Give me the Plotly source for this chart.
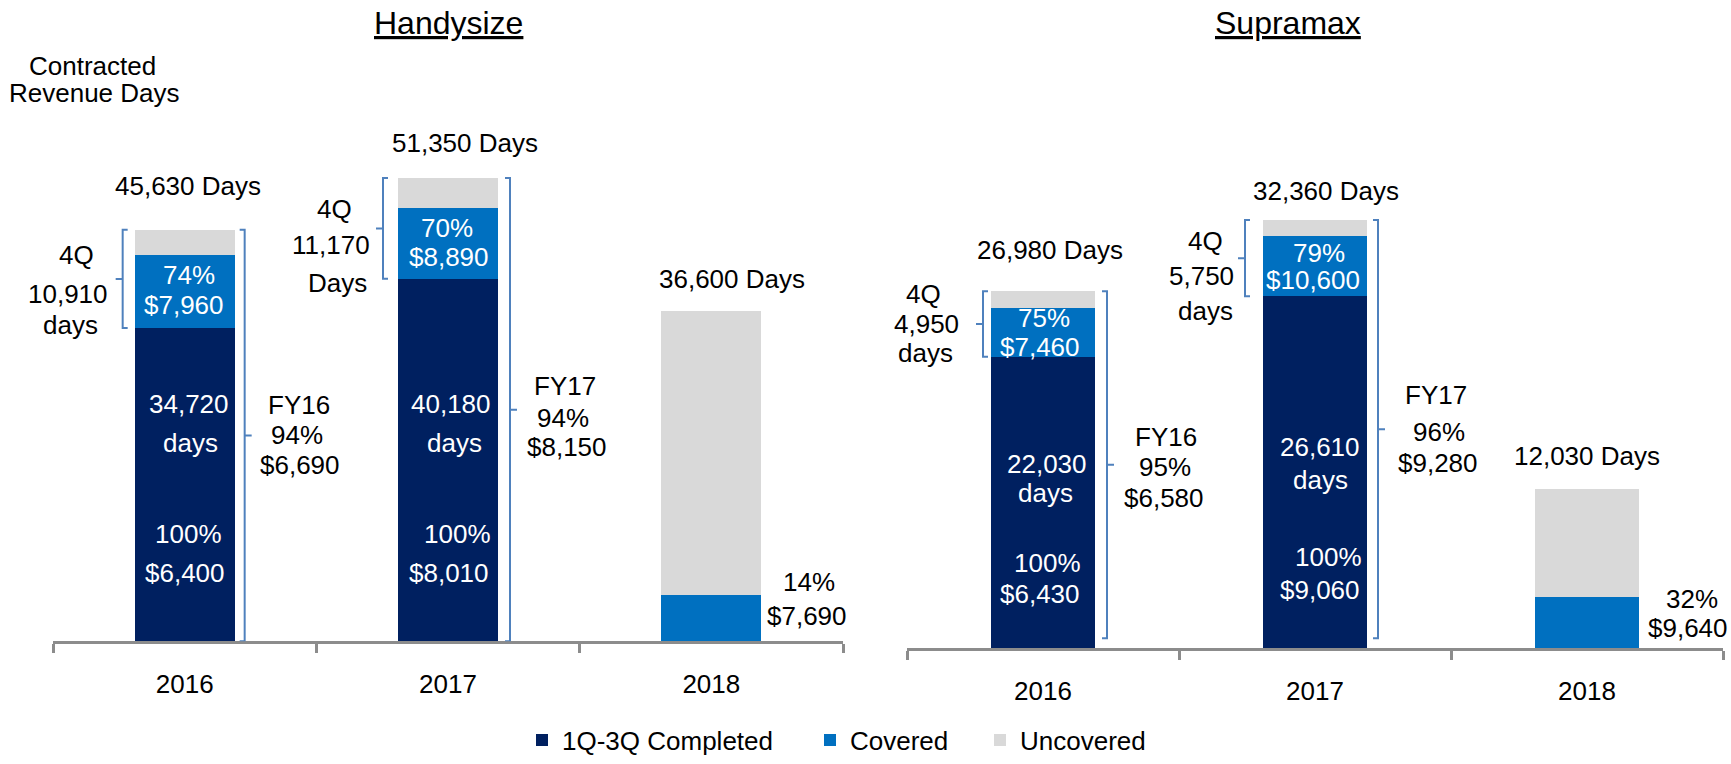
import plotly.graph_objects as go

# ---------------- data ----------------
years = ["2016", "2017", "2018"]
series_names = ["1Q-3Q Completed", "Covered", "Uncovered"]

# Handysize (days)
hs_completed = [34720, 40180, 0]
hs_covered = [8070, 7820, 5120]
hs_uncovered = [2840, 3350, 31480]
hs_totals = [45630, 51350, 36600]
hs_q4_days = [10910, 11170]
hs_q4_pct = [74, 70]
hs_q4_rate = [7960, 8890]
hs_done_rate = [6400, 8010]
hs_fy_pct = [94, 94]
hs_fy_rate = [6690, 8150]
hs_2018_pct = 14
hs_2018_rate = 7690

# Supramax (days)
sm_completed = [22030, 26610, 0]
sm_covered = [3710, 4540, 3850]
sm_uncovered = [1240, 1210, 8180]
sm_totals = [26980, 32360, 12030]
sm_q4_days = [4950, 5750]
sm_q4_pct = [75, 79]
sm_q4_rate = [7460, 10600]
sm_done_rate = [6430, 9060]
sm_fy_pct = [95, 96]
sm_fy_rate = [6580, 9280]
sm_2018_pct = 32
sm_2018_rate = 9640

# ---------------- style ----------------
FONT = "Liberation Sans, Arial, Helvetica, sans-serif"
NAVY = "#002060"
BLUE = "#0070C0"
GREY = "#D9D9D9"
BRACKET = "#4F81BD"
AXIS = "#8C8C8C"
W, H = 1731, 764
FS = 26

fig = go.Figure()

panels = [
    dict(xa="x", ya="y", comp=hs_completed, cov=hs_covered, unc=hs_uncovered),
    dict(xa="x2", ya="y2", comp=sm_completed, cov=sm_covered, unc=sm_uncovered),
]
legend_ids = ["legend", "legend2", "legend3"]
for pi, p in enumerate(panels):
    for k, (vals, col) in enumerate(zip([p["comp"], p["cov"], p["unc"]], [NAVY, BLUE, GREY])):
        fig.add_trace(go.Bar(
            x=years, y=vals, name=series_names[k],
            marker=dict(color=col, line=dict(width=0)),
            xaxis=p["xa"], yaxis=p["ya"],
            showlegend=(pi == 0), legend=legend_ids[k],
            hoverinfo="skip",
        ))


def lab(ax, i, val, text, dx, dy, color="black", size=FS):
    fig.add_annotation(
        xref=ax[0], yref=ax[1], x=i, y=val, text=text,
        xshift=dx, yshift=-dy, showarrow=False,
        xanchor="center", yanchor="middle",
        font=dict(family=FONT, size=size, color=color),
    )


def bracket(ax, i, y_top, y_bot, xoff, side):
    # side = -1 -> "[" (left of bar), +1 -> "]" (right of bar)
    s = -side * 5
    t = side * 7
    ym = (y_top + y_bot) / 2
    path = (f"M{xoff + s},{y_top} L{xoff},{y_top} L{xoff},{y_bot} L{xoff + s},{y_bot} "
            f"M{xoff},{ym} L{xoff + t},{ym}")
    fig.add_shape(type="path", xref=ax[0], yref=ax[1], xsizemode="pixel", xanchor=i,
                  path=path, line=dict(color=BRACKET, width=2))


LEFT = ("x", "y")
RIGHT = ("x2", "y2")
HS_YMAX = 71100
SM_YMAX = 49000
SM_PX = SM_YMAX / 655.0

# ---- Handysize labels ----
tot_off_hs = [(3, -44), (17, -35), (21, -32)]
for i in range(3):
    lab(LEFT, i, hs_totals[i], f"{hs_totals[i]:,} Days", *tot_off_hs[i])

q4_lines_hs = [[("4Q", -108, -24), (None, -117, 15), ("days", -114, 46)],
               [("4Q", -114, -19), (None, -117, 17), ("Days", -111, 55)]]
for i in range(2):
    mid = hs_completed[i] + (hs_covered[i] + hs_uncovered[i]) / 2
    for t, dx, dy in q4_lines_hs[i]:
        lab(LEFT, i, mid, t if t else f"{hs_q4_days[i]:,}", dx, dy)
    bmid = hs_completed[i] + hs_covered[i] / 2
    lab(LEFT, i, bmid, f"{hs_q4_pct[i]}%", [4, -1][i], [-17, -16][i], "white")
    lab(LEFT, i, bmid, f"${hs_q4_rate[i]:,}", [-1, 1][i], 13, "white")
    lab(LEFT, i, 0, f"{hs_completed[i]:,}", [4, 3][i], -237, "white")
    lab(LEFT, i, 0, "days", [6, 6][i], -198, "white")
    lab(LEFT, i, 0, "100%", [4, 9][i], -107, "white")
    lab(LEFT, i, 0, f"${hs_done_rate[i]:,}", [0, 1][i], -68, "white")
    fmid = hs_totals[i] / 2
    fy = ["FY16", "FY17"][i]
    lab(LEFT, i, fmid, fy, [114, 117][i], [-30, -24][i])
    lab(LEFT, i, fmid, f"{hs_fy_pct[i]}%", [112, 115][i], [0, 8][i])
    lab(LEFT, i, fmid, f"${hs_fy_rate[i]:,}", [115, 119][i], [30, 37][i])
    bracket(LEFT, i, hs_totals[i], hs_completed[i], [-62, -65][i], -1)
    bracket(LEFT, i, hs_totals[i], 0, [60, 62][i], 1)

lab(LEFT, 2, hs_covered[2], f"{hs_2018_pct}%", 98, -13)
lab(LEFT, 2, hs_covered[2], f"${hs_2018_rate:,}", 96, 21)

# ---- Supramax labels ----
tot_off_sm = [(7, -41), (11, -29), (0, -33)]
for i in range(3):
    lab(RIGHT, i, sm_totals[i], f"{sm_totals[i]:,} Days", *tot_off_sm[i])

q4_lines_sm = [[("4Q", -120, -30), (None, -117, 0), ("days", -118, 29)],
               [("4Q", -110, -17), (None, -114, 18), ("days", -110, 53)]]
for i in range(2):
    mid = sm_completed[i] + (sm_covered[i] + sm_uncovered[i]) / 2
    for t, dx, dy in q4_lines_sm[i]:
        lab(RIGHT, i, mid, t if t else f"{sm_q4_days[i]:,}", dx, dy)
    bmid = sm_completed[i] + sm_covered[i] / 2
    lab(RIGHT, i, bmid, f"{sm_q4_pct[i]}%", [1, 4][i], [-14, -13][i], "white")
    lab(RIGHT, i, bmid, f"${sm_q4_rate[i]:,}", [-3, -2][i], [15, 14][i], "white")
    lab(RIGHT, i, 0, f"{sm_completed[i]:,}", [4, 5][i], [-184, -201][i], "white")
    lab(RIGHT, i, 0, "days", [2, 5][i], [-155, -168][i], "white")
    lab(RIGHT, i, 0, "100%", [4, 13][i], [-85, -91][i], "white")
    lab(RIGHT, i, 0, f"${sm_done_rate[i]:,}", [-3, 5][i], [-54, -58][i], "white")
    fmid = sm_totals[i] / 2
    fy = ["FY16", "FY17"][i]
    lab(RIGHT, i, fmid, fy, [123, 121][i], [-33, -39][i])
    lab(RIGHT, i, fmid, f"{sm_fy_pct[i]}%", [122, 124][i], [-3, -2][i])
    lab(RIGHT, i, fmid, f"${sm_fy_rate[i]:,}", [121, 123][i], [28, 29][i])
    bracket(RIGHT, i, sm_totals[i], sm_completed[i], [-60, -70][i], -1)
    bracket(RIGHT, i, sm_totals[i], 10 * SM_PX, [64, 63][i], 1)

lab(RIGHT, 2, sm_covered[2], f"{sm_2018_pct}%", 105, 2)
lab(RIGHT, 2, sm_covered[2], f"${sm_2018_rate:,}", 101, 31)

# ---- titles & side note ----
fig.add_annotation(xref="x domain", yref="paper", x=0.5, y=1 - 23 / H,
                   text="<u>Handysize</u>", showarrow=False, xanchor="center", yanchor="middle",
                   font=dict(family=FONT, size=32, color="black"))
fig.add_annotation(xref="x2 domain", yref="paper", x=0.467, y=1 - 23 / H,
                   text="<u>Supramax</u>", showarrow=False, xanchor="center", yanchor="middle",
                   font=dict(family=FONT, size=32, color="black"))
fig.add_annotation(xref="paper", yref="paper", x=92 / W, y=1 - 67 / H,
                   text="Contracted", showarrow=False, xanchor="center", yanchor="middle",
                   font=dict(family=FONT, size=FS, color="black"))
fig.add_annotation(xref="paper", yref="paper", x=94 / W, y=1 - 94 / H,
                   text="Revenue Days", showarrow=False, xanchor="center", yanchor="middle",
                   font=dict(family=FONT, size=FS, color="black"))

xaxis_style = dict(
    type="category", range=[-0.5, 2.5], autorange=False,
    showline=True, linecolor=AXIS, linewidth=3,
    ticks="outside", tickson="boundaries", ticklen=9, tickwidth=3, tickcolor=AXIS,
    showgrid=False, zeroline=False, ticklabelstandoff=18,
    tickfont=dict(family=FONT, size=FS, color="black"), fixedrange=True,
)
yaxis_style = dict(visible=False, showgrid=False, zeroline=False, fixedrange=True, autorange=False)

leg_common = dict(orientation="h", yanchor="middle", xanchor="left", y=1 - 748 / H,
                  font=dict(family=FONT, size=FS, color="black"),
                  bgcolor="rgba(0,0,0,0)", borderwidth=0, itemclick=False, itemdoubleclick=False)

fig.update_layout(
    width=W, height=H, autosize=False,
    margin=dict(l=0, r=0, t=0, b=0),
    paper_bgcolor="white", plot_bgcolor="white",
    barmode="stack", bargap=0.62,
    font=dict(family=FONT, size=FS, color="black"),
    xaxis=dict(domain=[53 / W, 843 / W], anchor="y", **xaxis_style),
    yaxis=dict(domain=[1 - 648 / H, 1], range=[0, HS_YMAX], anchor="x", **yaxis_style),
    xaxis2=dict(domain=[907 / W, 1723 / W], anchor="y2", **xaxis_style),
    yaxis2=dict(domain=[1 - 655 / H, 1], range=[0, SM_YMAX], anchor="x2", **yaxis_style),
    legend=dict(x=522 / W, **leg_common),
    legend2=dict(x=810 / W, **leg_common),
    legend3=dict(x=980 / W, **leg_common),
)

fig.write_html(
    "out.html",
    config={"responsive": False, "displayModeBar": False},
    post_script="document.body.style.margin='0px';document.body.style.overflow='hidden';",
)
